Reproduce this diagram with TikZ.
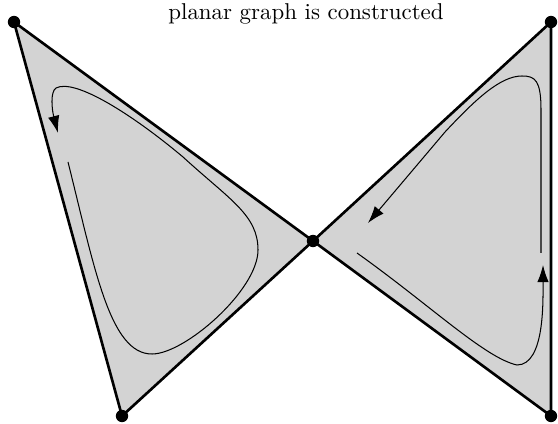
\documentclass[tikz,border=0pt]{standalone}
\usetikzlibrary{arrows.meta}
\definecolor{facegray}{RGB}{211,211,211}
\begin{document}
\begin{tikzpicture}[x=0.437pt,y=-0.437pt,
  vdot/.style={circle,fill=black,inner sep=0pt,minimum size=5.4pt},
  edge/.style={line width=1.15pt,line join=round},
  face/.style={fill=facegray},
  loop/.style={line width=0.45pt},
  tip/.style={-{Latex[length=7.5pt,width=5pt]}}]
\useasboundingbox (0,0) rectangle (558,424);
\coordinate (A) at (14,22);
\coordinate (B) at (122,416);
\coordinate (C) at (313,241);
\coordinate (D) at (551,22);
\coordinate (E) at (551,416);
\fill[face] (A) -- (C) -- (B) -- cycle;
\fill[face] (D) -- (C) -- (E) -- cycle;
\draw[edge] (A) -- (C) -- (D) -- (E) -- (C) -- (B) -- (A);
\node[vdot] (a) at (A) {};
\node[vdot] (b) at (B) {};
\node[vdot] (c) at (C) {};
\node[vdot] (d) at (D) {};
\node[vdot] (e) at (E) {};
\node[anchor=base] (t) at (306,20) {planar graph is constructed};
% left loop
\draw[loop,tip] (68,162) .. controls (95,270) and (110,354) .. (152,354)
  .. controls (185,354) and (258,290) .. (258,250)
  .. controls (258,215) and (230,200) .. (183,157)
  .. controls (133,115) and (75,78) .. (56,88)
  .. controls (50,92) and (52,110) .. (58,133);
% right loop
\draw[loop,tip] (357,253) .. controls (430,305) and (485,358) .. (517,365)
  .. controls (545,365) and (543,300) .. (543,265);
\draw[loop,tip] (541,253) -- (541,110) .. controls (541,80) and (535,76) .. (522,76)
  .. controls (500,76) and (475,100) .. (445,132) -- (368,223);
\end{tikzpicture}
\end{document}
